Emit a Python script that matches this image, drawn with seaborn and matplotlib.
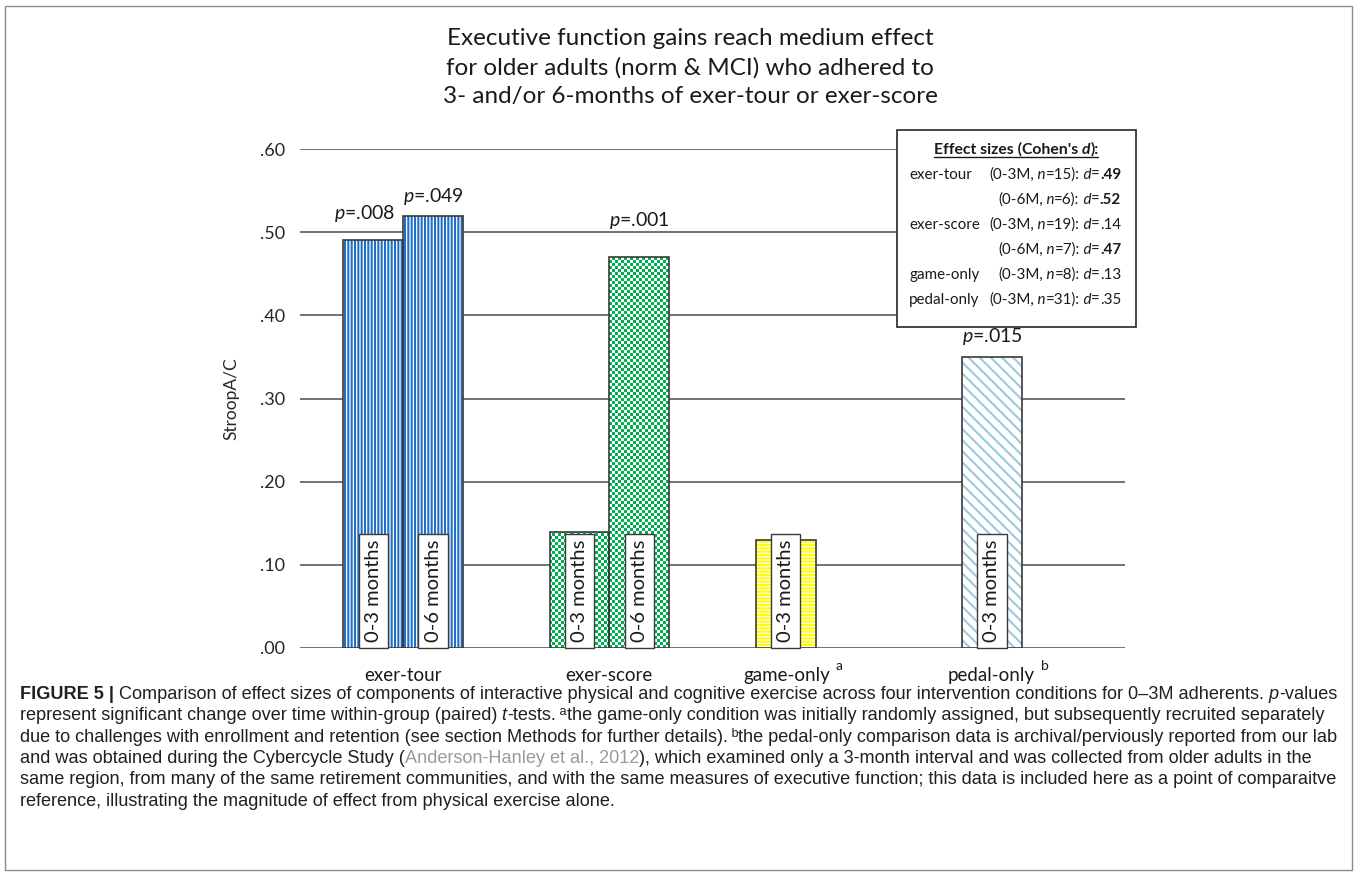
import numpy as np
import pandas as pd
import seaborn as sns
import matplotlib.pyplot as plt
from matplotlib.patches import Rectangle
from matplotlib.lines import Line2D
from matplotlib.colors import ListedColormap

conditions = ["exer-tour", "exer-score", "game-only", "pedal-only"]
intervals = ["0-3M", "0-6M"]
stroop_3m = [0.49, 0.14, 0.13, 0.35]
stroop_6m = [0.52, 0.47, np.nan, np.nan]
p_3m = [".008", "", "", ".015"]
p_6m = [".049", ".001", "", ""]
month_text = ["0-3 months", "0-6 months"]
cond_sup = ["", "", "a", "b"]
yticks = [0.0, 0.1, 0.2, 0.3, 0.4, 0.5, 0.6]
ytick_labels = [".00", ".10", ".20", ".30", ".40", ".50", ".60"]

leg_names = ["exer-tour", "", "exer-score", "", "game-only", "pedal-only"]
leg_interval = ["0-3M", "0-6M", "0-3M", "0-6M", "0-3M", "0-3M"]
leg_n = [15, 6, 19, 7, 8, 31]
leg_d = [".49", ".52", ".14", ".47", ".13", ".35"]
leg_bold = [True, True, False, True, False, False]

title = ("Executive function gains reach medium effect\n"
         "for older adults (norm & MCI) who adhered to\n"
         "3- and/or 6-months of exer-tour or exer-score")

# pattern colour / hatch per condition (exer-score gets a checkerboard image)
patterns = {"exer-tour": ("#1F6FC6", "|||||"),
            "exer-score": ("#00B050", None),
            "game-only": ("#FFFF00", "-----"),
            "pedal-only": ("#9ACBDD", "\\\\\\")}
edge = "#3a3a3a"

sns.set_style("white")
plt.rcParams["font.family"] = ["Lato", "DejaVu Sans"]
plt.rcParams["mathtext.fontset"] = "custom"
plt.rcParams["mathtext.rm"] = "Lato"
plt.rcParams["mathtext.it"] = "Lato:italic"
plt.rcParams["mathtext.bf"] = "Lato:bold"
plt.rcParams["hatch.linewidth"] = 1.5
plt.rcParams["text.color"] = "#1a1a1a"

W, H = 1357, 875
def fx(px): return px / W
def fy(py): return 1 - py / H

fig = plt.figure(figsize=(W / 100, H / 100), dpi=100)
ax = fig.add_axes([fx(300), fy(648), fx(825), 499 / H])

df = pd.DataFrame({
    "condition": conditions * 2,
    "interval": [intervals[0]] * 4 + [intervals[1]] * 4,
    "stroop": stroop_3m + stroop_6m,
})

sns.barplot(data=df, x="condition", y="stroop", hue="interval",
            order=conditions, hue_order=intervals, palette=["white", "white"],
            width=0.58, gap=0, errorbar=None, linewidth=0, legend=False,
            ax=ax, zorder=2)
bars = []
for k, cont in enumerate(ax.containers):
    for bar in cont:
        h = bar.get_height()
        if not np.isfinite(h) or h <= 0:
            continue
        ci = int(round(bar.get_x() + bar.get_width() / 2))
        bars.append((k, ci, bar))

sns.barplot(data=df, x="condition", y="stroop", hue="interval",
            order=conditions, hue_order=intervals, palette=[edge, edge],
            width=0.58, gap=0, errorbar=None, fill=False, linewidth=1.2,
            legend=False, ax=ax, zorder=3)

ax.set_ylim(0, 0.6)
ax.set_xlim(-0.5, 3.5)
xlim, ylim = ax.get_xlim(), ax.get_ylim()
ax_bb = ax.get_window_extent()
nx, ny = int(ax_bb.width / 3), int(ax_bb.height / 3)
checker = np.add.outer(np.arange(ny), np.arange(nx)) % 2

for k, ci, bar in bars:
    color, hatch = patterns[conditions[ci]]
    if hatch is None:
        im = ax.imshow(checker, extent=(*xlim, *ylim), origin="lower",
                       cmap=ListedColormap(["white", color]),
                       interpolation="nearest", aspect="auto", zorder=2.5)
        im.set_clip_path(bar)
    else:
        bar.set_facecolor("white")
        bar.set_edgecolor(color)
        bar.set_hatch(hatch)
ax.set_xlim(xlim)
ax.set_ylim(ylim)

# month boxes and p-values
p_offsets = {(0, 0): (-6, 12), (1, 0): (0, 6), (1, 1): (0, 19), (0, 3): (0, 7)}
for k, ci, bar in bars:
    cx = bar.get_x() + bar.get_width() / 2
    ax.annotate(month_text[k], xy=(cx, 0), xytext=(0, 4),
                textcoords="offset points", rotation=90, ha="center",
                va="bottom", fontsize=14.5, zorder=4,
                bbox=dict(boxstyle="square,pad=0.3", fc="white", ec=edge, lw=1))
    p = (p_3m if k == 0 else p_6m)[ci]
    if p:
        dx, dy = p_offsets[(k, ci)]
        ax.annotate("$p$=" + p, xy=(cx, bar.get_height()), xytext=(dx, dy),
                    textcoords="offset points", ha="center", va="bottom",
                    fontsize=14, zorder=4)

ax.set_yticks(yticks, ytick_labels)
ax.set_xticks(range(len(conditions)), [""] * len(conditions))
ax.tick_params(axis="y", length=0, pad=11, labelsize=13)
ax.tick_params(axis="x", length=0)
ax.grid(axis="y", color="#5a5a5a", linewidth=1.2)
ax.grid(axis="x", visible=False)
ax.set_axisbelow(True)
for s in ax.spines.values():
    s.set_visible(False)
ax.set_xlabel("")
ax.set_ylabel("StroopA/C", fontsize=12.5)
ax.yaxis.set_label_coords(-0.073, 0.5)

label_dx = [0, 0, -21, -22]
for i, name in enumerate(conditions):
    ax.annotate(name, xy=(i, 0), xycoords=("data", "axes fraction"),
                xytext=(label_dx[i], -14), textcoords="offset points",
                ha="center", va="top", fontsize=13.5)
    if cond_sup[i]:
        ax.annotate(cond_sup[i], xy=(i, 0), xycoords=("data", "axes fraction"),
                    xytext=(14, -9), textcoords="offset points",
                    ha="left", va="top", fontsize=10)

fig.text(fx(690), fy(28), title, ha="center", va="top", fontsize=17.5,
         linespacing=1.45)

renderer = fig.canvas.get_renderer()
inv = fig.transFigure.inverted()


def put_runs(runs, x, y, align="left", **base):
    texts, cur = [], x
    for s, kw in runs:
        props = {**base, **kw}
        dy = props.pop("dy", 0)
        t = fig.text(cur, y + dy, s, ha="left", va="baseline", **props)
        bb = t.get_window_extent(renderer)
        cur = inv.transform((bb.x1, bb.y0))[0]
        texts.append(t)
    shift = {"left": 0, "center": (cur - x) / 2, "right": cur - x}[align]
    for t in texts:
        t.set_x(t.get_position()[0] - shift)
    return texts


# effect-size box
fig.add_artist(Rectangle((fx(897), fy(327)), fx(1136) - fx(897), (327 - 130) / H,
                         transform=fig.transFigure, fc="white", ec="#262626",
                         lw=1.2, zorder=5))
bold = {"fontweight": "bold"}
it = {"fontstyle": "italic"}
leg_size = 10.9
head = put_runs([("Effect sizes (Cohen's ", bold),
                 ("d", {"fontweight": "bold", "fontstyle": "italic"}),
                 ("):", bold)], fx(1016), fy(154), align="center",
                fontsize=11.3, zorder=6)
x0 = inv.transform((head[0].get_window_extent(renderer).x0, 0))[0]
x1 = inv.transform((head[-1].get_window_extent(renderer).x1, 0))[0]
fig.add_artist(Line2D([x0, x1], [fy(157), fy(157)], color="#1a1a1a", lw=1,
                      zorder=6))
for i in range(len(leg_n)):
    y = fy(179 + 25 * i)
    if leg_names[i]:
        fig.text(fx(909), y, leg_names[i], ha="left", va="baseline",
                 fontsize=leg_size, zorder=6)
    runs = [(f"({leg_interval[i]},", {}), (" n", it), (f"={leg_n[i]}):", {}),
            (" d", it), ("=", {}), (leg_d[i], bold if leg_bold[i] else {})]
    put_runs(runs, fx(1121), y, align="right", fontsize=leg_size, zorder=6)

# caption
cap = {"family": ["Liberation Sans", "DejaVu Sans"], "fontsize": 13.1,
       "color": "#231f20"}
sup = {"fontsize": 9, "dy": 5 / H}
caption = [
    [("FIGURE 5 |", bold),
     (" Comparison of effect sizes of components of interactive physical and "
      "cognitive exercise across four intervention conditions for 0\u20133M "
      "adherents.", {}), (" p", it), ("-values", {})],
    [("represent significant change over time within-group (paired)", {}),
     (" t", it), ("-tests.", {}), (" a", sup),
     ("the game-only condition was initially randomly assigned, but "
      "subsequently recruited separately", {})],
    [("due to challenges with enrollment and retention (see section Methods "
      "for further details).", {}), (" b", sup),
     ("the pedal-only comparison data is archival/perviously reported from "
      "our lab", {})],
    [("and was obtained during the Cybercycle Study (", {}),
     ("Anderson-Hanley et al., 2012", {"color": "#9a9a9a"}),
     ("), which examined only a 3-month interval and was collected from "
      "older adults in the", {})],
    [("same region, from many of the same retirement communities, and with "
      "the same measures of executive function; this data is included here "
      "as a point of comparaitve", {})],
    [("reference, illustrating the magnitude of effect from physical "
      "exercise alone.", {})],
]
for j, runs in enumerate(caption):
    put_runs(runs, fx(20), fy(699 + 21.3 * j), **cap)

fig.add_artist(Rectangle((fx(5), fy(870)), fx(1347), 864 / H,
                         transform=fig.transFigure, fill=False,
                         ec="#8c8c8c", lw=1))

fig.savefig("out.png", dpi=100)
